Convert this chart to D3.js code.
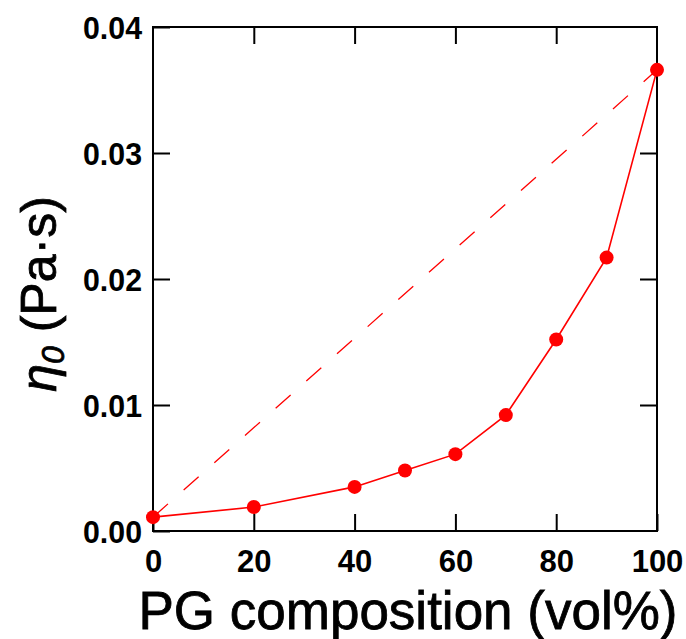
<!DOCTYPE html>
<html><head><meta charset="utf-8">
<script src="https://cdn.jsdelivr.net/npm/d3@7"></script>
<style>body{margin:0;background:#fff}</style>
</head><body>
<svg id="chart" width="686" height="639"></svg>
<script>
const composition = [0, 20, 40, 50, 60, 70, 80, 90, 100];
const viscosity = [0.0011, 0.0019, 0.0035, 0.0048, 0.0061, 0.0092, 0.0152, 0.0217, 0.0366];
const xTicks = [0, 20, 40, 60, 80, 100];
const yTicks = [0, 0.01, 0.02, 0.03, 0.04];
const yTickLabels = ["0.00", "0.01", "0.02", "0.03", "0.04"];
const idealEnds = [[0, 0.0011], [100, 0.0366]];

(function () {
const svg = d3.select("#chart");
const L = 153, R = 657, T = 27, B = 531;
const x = d3.scaleLinear().domain([0, 100]).range([L, R]);
const y = d3.scaleLinear().domain([0, 0.04]).range([B, T]);
const tickLen = 17;
const font = "'Liberation Sans', Arial, Helvetica, sans-serif";

const gBottom = svg.append("g").attr("transform", `translate(0,${B})`)
  .call(d3.axisBottom(x).tickValues(xTicks).tickSizeInner(-tickLen).tickSizeOuter(0).tickPadding(19).tickFormat(d3.format("d")));
const gTop = svg.append("g").attr("transform", `translate(0,${T})`)
  .call(d3.axisTop(x).tickValues(xTicks.slice(1, -1)).tickSizeInner(-tickLen).tickSizeOuter(0).tickFormat(""));
const gLeft = svg.append("g").attr("transform", `translate(${L},0)`)
  .call(d3.axisLeft(y).tickValues(yTicks).tickSizeInner(-tickLen).tickSizeOuter(0).tickPadding(11).tickFormat((d, i) => yTickLabels[i]));
const gRight = svg.append("g").attr("transform", `translate(${R},0)`)
  .call(d3.axisRight(y).tickValues(yTicks.slice(1, -1)).tickSizeInner(-tickLen).tickSizeOuter(0).tickFormat(""));

[gBottom, gTop, gLeft, gRight].forEach(g => {
  g.select(".domain").remove();
  g.selectAll(".tick line").attr("stroke", "#000").attr("stroke-width", 2);
  g.selectAll(".tick text").attr("fill", "#000")
    .style("font-family", font)
    .style("font-weight", "bold").style("font-size", "31px");
});
gLeft.selectAll(".tick text").attr("dy", "0.36em")
  .attr("textLength", 59).attr("lengthAdjust", "spacingAndGlyphs");
gBottom.selectAll(".tick text").attr("dy", "0.71em");

svg.append("rect").attr("x", L).attr("y", T).attr("width", R - L).attr("height", B - T)
  .attr("fill", "none").attr("stroke", "#000").attr("stroke-width", 2);

svg.append("path").datum(idealEnds)
  .attr("d", d3.line().x(d => x(d[0])).y(d => y(d[1])))
  .attr("fill", "none").attr("stroke", "#ff0000").attr("stroke-width", 1.3)
  .attr("stroke-dasharray", "20,21");

const pts = composition.map((c, i) => [c, viscosity[i]]);
svg.append("path").datum(pts)
  .attr("d", d3.line().x(d => x(d[0])).y(d => y(d[1])))
  .attr("fill", "none").attr("stroke", "#ff0000").attr("stroke-width", 1.6);

svg.selectAll("circle.pt").data(pts).enter().append("circle")
  .attr("class", "pt").attr("cx", d => x(d[0])).attr("cy", d => y(d[1]))
  .attr("r", 7).attr("fill", "#ff0000");

svg.append("text").attr("x", 408).attr("y", 629)
  .attr("text-anchor", "middle")
  .style("font-family", font)
  .style("font-size", "53px").attr("fill", "#000")
  .attr("stroke", "#000").attr("stroke-width", 0.8)
  .text("PG composition (vol%)");

const yt = svg.append("text")
  .attr("transform", `translate(56,294) rotate(-90)`)
  .attr("text-anchor", "middle")
  .style("font-family", font)
  .style("font-size", "50px").attr("fill", "#000")
  .attr("stroke", "#000").attr("stroke-width", 0.8);
yt.append("tspan").style("font-style", "italic").text("η");
yt.append("tspan").style("font-style", "italic").style("font-size", "32px").attr("dy", 8).text("0");
yt.append("tspan").attr("dy", -8).text(" (Pa·s)");
})();
</script>
</body></html>
